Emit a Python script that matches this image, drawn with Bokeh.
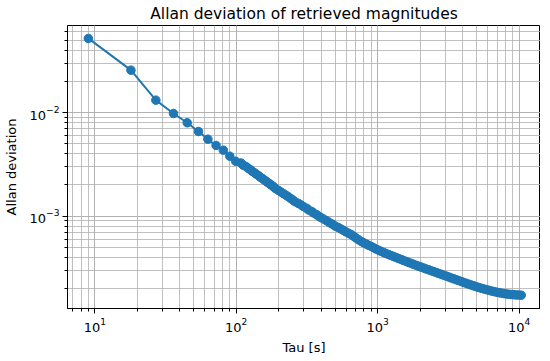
from bokeh.plotting import figure
from bokeh.models import Range1d, LogTicker
from bokeh.embed import file_html
from bokeh.resources import INLINE

tau = [9, 18, 27, 36, 45, 54, 63, 72, 81, 90, 99,
       108, 117, 126, 135, 144, 153, 162, 171, 180,
       189, 207, 225, 243, 261, 288, 315, 342, 369, 396,
       432, 468, 504, 549, 594, 648, 702, 765, 828, 900,
       972, 1053, 1143, 1242, 1350, 1467, 1593, 1728, 1872, 2025,
       2196, 2385, 2592, 2808, 3051, 3303, 3591, 3897, 4221, 4581,
       4968, 5391, 5850, 6345, 6885, 7470, 8100, 8793, 9540, 10350]

adev = [0.0518, 0.0256, 0.01315, 0.00978, 0.00796, 0.00656, 0.00553, 0.00481, 0.00433, 0.00379, 0.00339,
        3.258e-3, 3.021e-3, 2.802e-3, 2.616e-3, 2.453e-3, 2.309e-3, 2.180e-3, 2.067e-3, 1.964e-3,
        1.849e-3, 1.711e-3, 1.590e-3, 1.481e-3, 1.377e-3, 1.282e-3, 1.192e-3, 1.110e-3, 1.038e-3, 9.716e-4,
        9.090e-4, 8.505e-4, 7.991e-4, 7.527e-4, 7.072e-4, 6.660e-4, 6.163e-4, 5.702e-4, 5.394e-4, 5.103e-4,
        4.828e-4, 4.587e-4, 4.368e-4, 4.178e-4, 3.996e-4, 3.822e-4, 3.657e-4, 3.505e-4, 3.360e-4, 3.229e-4,
        3.103e-4, 2.982e-4, 2.865e-4, 2.753e-4, 2.645e-4, 2.541e-4, 2.441e-4, 2.346e-4, 2.254e-4, 2.170e-4,
        2.090e-4, 2.021e-4, 1.959e-4, 1.904e-4, 1.854e-4, 1.813e-4, 1.781e-4, 1.757e-4, 1.742e-4, 1.730e-4]

# further readings between the points above (the curve is a dense band there)
tau_more = [112, 121, 130, 139, 148, 157, 166, 175, 184,
            198, 216, 234, 252, 275, 299, 324, 352, 382, 414,
            449, 487, 529, 574, 622, 675, 732, 795, 862, 935,
            1015, 1101, 1194, 1296, 1406, 1525, 1655, 1795, 1948, 2113,
            2293, 2487, 2698, 2927, 3176, 3445, 3737, 4054, 4399, 4772,
            5177, 5617, 6093, 6610, 7172, 7780, 8441, 9158, 9936]

adev_more = [3.103e-3, 2.903e-3, 2.704e-3, 2.536e-3, 2.377e-3, 2.244e-3, 2.123e-3, 2.013e-3, 1.917e-3,
             1.779e-3, 1.650e-3, 1.535e-3, 1.428e-3, 1.329e-3, 1.236e-3, 1.150e-3, 1.074e-3, 1.004e-3, 9.397e-4,
             8.794e-4, 8.245e-4, 7.756e-4, 7.297e-4, 6.863e-4, 6.408e-4, 5.929e-4, 5.546e-4, 5.247e-4, 4.964e-4,
             4.706e-4, 4.476e-4, 4.272e-4, 4.087e-4, 3.909e-4, 3.739e-4, 3.581e-4, 3.432e-4, 3.294e-4, 3.165e-4,
             3.042e-4, 2.923e-4, 2.808e-4, 2.698e-4, 2.593e-4, 2.491e-4, 2.393e-4, 2.299e-4, 2.212e-4, 2.130e-4,
             2.055e-4, 1.990e-4, 1.931e-4, 1.879e-4, 1.833e-4, 1.797e-4, 1.769e-4, 1.750e-4, 1.736e-4]

title = "Allan deviation of retrieved magnitudes"
xlabel = "Tau [s]"
ylabel = "Allan deviation"

FONT = "DejaVu Sans"
BLUE = "#1f77b4"
GRID = "#b0b0b0"

pts = sorted(zip(tau + tau_more, adev + adev_more))
xs = [t for t, _ in pts]
ys = [a for _, a in pts]

p = figure(frame_width=473, frame_height=283, x_axis_type="log", y_axis_type="log",
           x_range=Range1d(6.41, 14160), y_range=Range1d(1.288e-4, 0.06902),
           output_backend="svg", toolbar_location=None, title=title,
           min_border_left=63, min_border_right=0, min_border_bottom=40, min_border_top=22)

p.title.align = "center"
p.title.text_font = FONT
p.title.text_font_size = "15.5px"
p.title.text_font_style = "normal"
p.title.text_color = "black"
p.title.standoff = 5

p.outline_line_color = "black"
p.outline_line_width = 1
p.background_fill_color = "white"
p.border_fill_color = "white"

for ax in (p.xaxis[0], p.yaxis[0]):
    ax.ticker = LogTicker(num_minor_ticks=10)
    ax.major_label_text_font = FONT
    ax.major_label_text_font_size = "13px"
    ax.major_label_text_color = "black"
    ax.major_label_standoff = 3
    ax.axis_label_text_font = FONT
    ax.axis_label_text_font_size = "13px"
    ax.axis_label_text_font_style = "normal"
    ax.axis_label_text_color = "black"
    ax.axis_label_standoff = 4
    ax.major_tick_in = 0
    ax.major_tick_out = 5
    ax.minor_tick_in = 0
    ax.minor_tick_out = 3
    ax.axis_line_color = "black"
    ax.major_tick_line_color = "black"
    ax.minor_tick_line_color = "black"

p.yaxis[0].axis_label_standoff = 8
p.xaxis[0].major_label_standoff = 4
p.xaxis[0].axis_label_standoff = 5

p.xaxis.axis_label = xlabel
p.yaxis.axis_label = ylabel

for g in (p.xgrid[0], p.ygrid[0]):
    g.grid_line_color = GRID
    g.grid_line_width = 0.8
    g.minor_grid_line_color = GRID
    g.minor_grid_line_width = 0.8

p.line(xs, ys, line_color=BLUE, line_width=2)
p.scatter(xs, ys, size=8.5, fill_color=BLUE, line_color=BLUE)

open("out.html", "w").write(file_html(p, INLINE))
